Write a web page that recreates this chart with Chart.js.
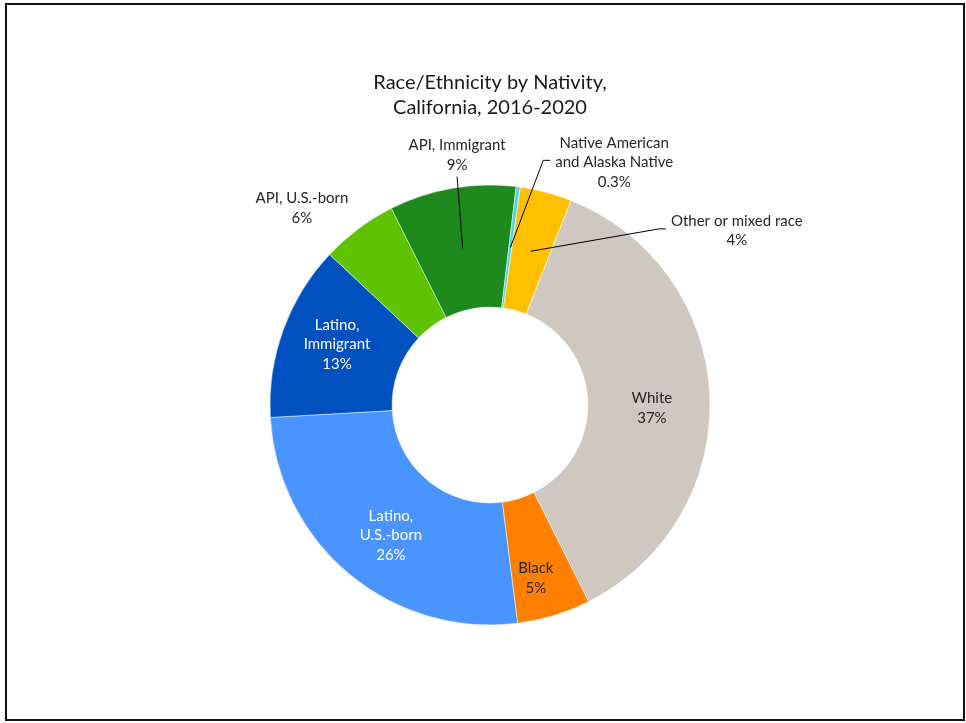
<!DOCTYPE html>
<html>
<head>
<meta charset="utf-8">
<script src="https://cdn.jsdelivr.net/npm/chart.js@4/dist/chart.umd.min.js"></script>
<style>
  html, body { margin: 0; padding: 0; background: #fff; }
  #frame {
    position: absolute; left: 5px; top: 3px;
    width: 956px; height: 714px;
    border: 2px solid #111;
    background: #fff;
  }
  #chart { display: block; }
</style>
</head>
<body>
<div id="frame"><canvas id="chart" width="956" height="714"></canvas></div>
<script>
// data, clockwise starting at the White slice
const categories = ['White', 'Black', 'Latino, U.S.-born', 'Latino, Immigrant', 'API, U.S.-born', 'API, Immigrant', 'Native American and Alaska Native', 'Other or mixed race'];
const shares = [36.6, 5.4, 26.1, 12.9, 5.6, 9.3, 0.3, 3.8];
const shareLabels = ['37%', '5%', '26%', '13%', '6%', '9%', '0.3%', '4%'];
const labelLines = [['White'], ['Black'], ['Latino,', 'U.S.-born'], ['Latino,', 'Immigrant'], ['API, U.S.-born'], ['API, Immigrant'], ['Native American', 'and Alaska Native'], ['Other or mixed race']];
const titleLines = ['Race/Ethnicity by Nativity,', 'California, 2016-2020'];

const colors = ['#CEC8C1', '#FF7F00', '#4A94FF', '#0050C0', '#5EC300', '#1E8A1E', '#4DD2E6', '#FFC000'];

// where each label sits: compass angle (deg, clockwise from top) and radius as a share of the outer radius
const placement = [
  { angle: 91.1, r: 0.736, color: '#262626' },
  { angle: 165.2, r: 0.815, color: '#262626' },
  { angle: 217.2, r: 0.745, color: '#ffffff' },
  { angle: 291.6, r: 0.748, color: '#ffffff' },
  { angle: 316.3, r: 1.237, color: '#262626' },
  { angle: 352.5, r: 1.146, color: '#262626', leader: 'below' },
  { angle: 27.1, r: 1.239, color: '#262626', leader: 'left' },
  { angle: 54.8, r: 1.373, color: '#262626', leader: 'left' }
];

const FONT = 'Lato, "Liberation Sans", sans-serif';

const sliceLabels = {
  id: 'sliceLabels',
  afterDatasetsDraw(chart) {
    const ctx = chart.ctx;
    const meta = chart.getDatasetMeta(0);
    const lh = 19.5;
    ctx.save();
    ctx.font = '15px ' + FONT;
    ctx.textAlign = 'center';
    ctx.textBaseline = 'middle';
    meta.data.forEach((arc, i) => {
      const p = placement[i];
      const a = p.angle * Math.PI / 180 - Math.PI / 2;
      const cx = arc.x + Math.cos(a) * p.r * arc.outerRadius;
      const cy = arc.y + Math.sin(a) * p.r * arc.outerRadius;
      const lines = labelLines[i].concat([shareLabels[i]]);
      const n = lines.length;
      const w = Math.max(...lines.map(t => ctx.measureText(t).width));

      if (p.leader) {
        const mid = (arc.startAngle + arc.endAngle) / 2;
        const rr = (arc.innerRadius + arc.outerRadius) / 2;
        const ex = arc.x + Math.cos(mid) * rr;
        const ey = arc.y + Math.sin(mid) * rr;
        ctx.strokeStyle = '#000';
        ctx.lineWidth = 1;
        ctx.beginPath();
        if (p.leader === 'below') {
          ctx.moveTo(cx, cy + n * lh / 2 + 2);
        } else {
          const lx = cx - w / 2;
          ctx.moveTo(lx - 5, cy - 2);
          ctx.lineTo(lx - 12, cy - 2);
        }
        ctx.lineTo(ex, ey);
        ctx.stroke();
      }

      ctx.fillStyle = p.color;
      lines.forEach((t, k) => {
        ctx.fillText(t, cx, cy + (k - (n - 1) / 2) * lh);
      });
    });
    ctx.restore();
  }
};

new Chart(document.getElementById('chart'), {
  type: 'doughnut',
  data: {
    labels: categories,
    datasets: [{
      data: shares,
      backgroundColor: colors,
      borderColor: '#ffffff',
      borderWidth: 0.5
    }]
  },
  options: {
    responsive: false,
    animation: false,
    rotation: 21.6,
    cutout: '44.5%',
    radius: 220,
    layout: { padding: { left: 40, right: 30, top: 0, bottom: 29 } },
    plugins: {
      legend: { display: false },
      tooltip: { enabled: false },
      title: {
        display: true,
        text: titleLines,
        color: '#1a1a1a',
        font: { family: FONT, size: 20, weight: 'normal', lineHeight: 25 / 20 },
        padding: { top: 65, bottom: 0 }
      }
    }
  },
  plugins: [sliceLabels]
});
</script>
</body>
</html>
